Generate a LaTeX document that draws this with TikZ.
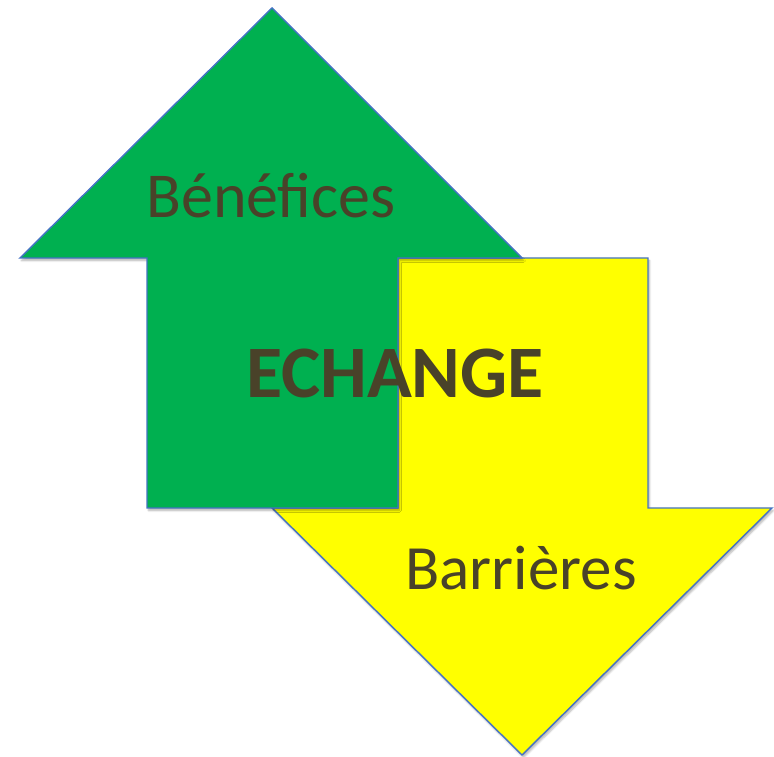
\documentclass[tikz,border=0pt]{standalone}
\usepackage{fontspec}
\setmainfont{Carlito}
\usetikzlibrary{shadows.blur}

\definecolor{upgreen}{RGB}{0,176,80}
\definecolor{downyellow}{RGB}{255,255,0}
\definecolor{edgeblue}{RGB}{68,114,196}
\definecolor{labeltext}{RGB}{73,66,41}

\tikzset{
    arrowshape/.style={draw=edgeblue, line width=1.4pt, line join=miter,
        blur shadow={shadow xshift=1.5pt, shadow yshift=-2.5pt,
            shadow blur steps=6, shadow opacity=30}},
    arrowlabel/.style={text=labeltext, anchor=base, inner sep=0pt}
}

\begin{document}
\begin{tikzpicture}[x=1pt, y=1pt]
            \useasboundingbox (0,0) rectangle (774,757);
            % down arrow (barriers)
            \draw [arrowshape, fill=downyellow] (398,499) -- (648,499) --
                (648,249) -- (772,249) -- (522,2) -- (272,249) -- (398,249)
                -- cycle;
            % up arrow (benefits)
            \draw [arrowshape, fill=upgreen] (272,749) -- (522,499) --
                (398,499) -- (398,249) -- (147,249) -- (147,499) -- (20,499)
                -- cycle;
            \node [arrowlabel, font=\fontsize{64}{64}\selectfont] (benefices)
                at (271,539) {Bénéfices};
            \node [arrowlabel, font=\fontsize{74}{74}\selectfont\bfseries]
                (echange) at (395,359) {ECHANGE};
            \node [arrowlabel, font=\fontsize{63}{63}\selectfont] (barrieres)
                at (521,167) {Barrières};
        \end{tikzpicture}
\end{document}
